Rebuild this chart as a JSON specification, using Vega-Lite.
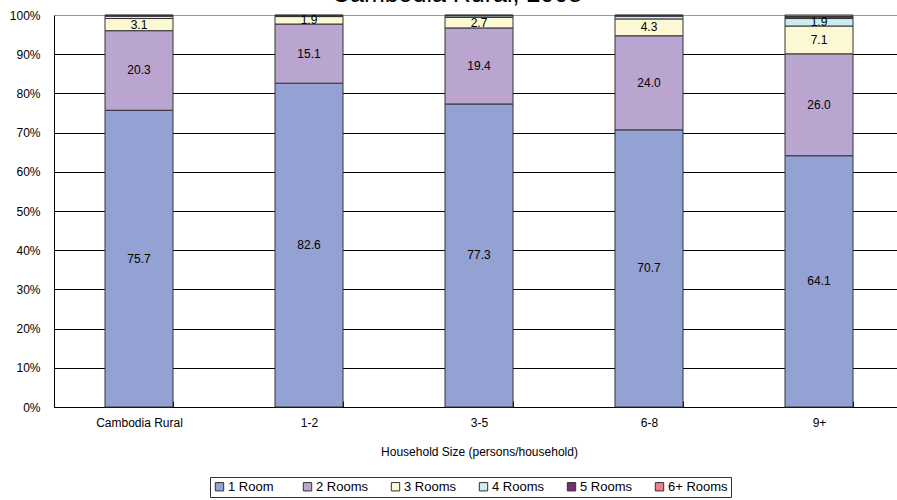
{
  "$schema": "https://vega.github.io/schema/vega-lite/v6.json",
  "width": 850,
  "height": 392,
  "autosize": "none",
  "padding": {"left": 54, "top": 15, "right": 0, "bottom": 93},
  "background": "white",
  "title": {"text": "Cambodia Rural, 2008", "fontSize": 25, "font": "Liberation Sans", "fontWeight": "normal", "color": "black", "anchor": "middle", "offset": 2, "dx": -22},
  "config": {
    "view": {"stroke": null},
    "font": "Liberation Sans Narrow, Liberation Sans",
    "axis": {"labelFont": "Liberation Sans Narrow, Liberation Sans", "titleFont": "Liberation Sans Narrow, Liberation Sans", "labelColor": "black", "titleColor": "black"}
  },
  "data": {"values": [
    {"group": "Cambodia Rural", "rooms": "1 Room", "k": 1, "value": 75.7},
    {"group": "Cambodia Rural", "rooms": "2 Rooms", "k": 2, "value": 20.3},
    {"group": "Cambodia Rural", "rooms": "3 Rooms", "k": 3, "value": 3.1},
    {"group": "Cambodia Rural", "rooms": "4 Rooms", "k": 4, "value": 0.6},
    {"group": "Cambodia Rural", "rooms": "5 Rooms", "k": 5, "value": 0.2},
    {"group": "Cambodia Rural", "rooms": "6+ Rooms", "k": 6, "value": 0.1},
    {"group": "1-2", "rooms": "1 Room", "k": 1, "value": 82.6},
    {"group": "1-2", "rooms": "2 Rooms", "k": 2, "value": 15.1},
    {"group": "1-2", "rooms": "3 Rooms", "k": 3, "value": 1.9},
    {"group": "1-2", "rooms": "4 Rooms", "k": 4, "value": 0.2},
    {"group": "1-2", "rooms": "5 Rooms", "k": 5, "value": 0.1},
    {"group": "1-2", "rooms": "6+ Rooms", "k": 6, "value": 0.1},
    {"group": "3-5", "rooms": "1 Room", "k": 1, "value": 77.3},
    {"group": "3-5", "rooms": "2 Rooms", "k": 2, "value": 19.4},
    {"group": "3-5", "rooms": "3 Rooms", "k": 3, "value": 2.7},
    {"group": "3-5", "rooms": "4 Rooms", "k": 4, "value": 0.4},
    {"group": "3-5", "rooms": "5 Rooms", "k": 5, "value": 0.1},
    {"group": "3-5", "rooms": "6+ Rooms", "k": 6, "value": 0.1},
    {"group": "6-8", "rooms": "1 Room", "k": 1, "value": 70.7},
    {"group": "6-8", "rooms": "2 Rooms", "k": 2, "value": 24.0},
    {"group": "6-8", "rooms": "3 Rooms", "k": 3, "value": 4.3},
    {"group": "6-8", "rooms": "4 Rooms", "k": 4, "value": 0.7},
    {"group": "6-8", "rooms": "5 Rooms", "k": 5, "value": 0.2},
    {"group": "6-8", "rooms": "6+ Rooms", "k": 6, "value": 0.1},
    {"group": "9+", "rooms": "1 Room", "k": 1, "value": 64.1},
    {"group": "9+", "rooms": "2 Rooms", "k": 2, "value": 26.0},
    {"group": "9+", "rooms": "3 Rooms", "k": 3, "value": 7.1},
    {"group": "9+", "rooms": "4 Rooms", "k": 4, "value": 1.9},
    {"group": "9+", "rooms": "5 Rooms", "k": 5, "value": 0.5},
    {"group": "9+", "rooms": "6+ Rooms", "k": 6, "value": 0.4}
  ]},
  "transform": [
    {"stack": "value", "groupby": ["group"], "sort": [{"field": "k", "order": "ascending"}], "as": ["v0", "v1"]},
    {"calculate": "(datum.v0 + datum.v1) / 2", "as": "mid"}
  ],
  "encoding": {
    "x": {"field": "group", "type": "nominal", "sort": ["Cambodia Rural", "1-2", "3-5", "6-8", "9+"],
      "scale": {"paddingInner": 0.6, "paddingOuter": 0.3},
      "axis": {"title": "Household Size (persons/household)", "labelAngle": 0, "labelFontSize": 12, "titleFontSize": 12, "titleFontWeight": "normal", "labelPadding": 16, "titlePadding": 18, "ticks": true, "tickBand": "extent", "tickSize": -6, "tickWidth": 1, "tickColor": "black", "domainColor": "black", "labelColor": "black"}
    }
  },
  "layer": [
    {
      "mark": {"type": "bar", "stroke": "#333333", "strokeWidth": 1},
      "encoding": {
        "y": {"field": "v0", "type": "quantitative",
          "scale": {"domain": [0, 100], "nice": false},
          "axis": {"title": null, "values": [0,10,20,30,40,50,60,70,80,90,100], "labelExpr": "datum.value + '%'", "labelFontSize": 12, "ticks": false, "labelPadding": 14, "domainColor": "black", "gridColor": {"condition": {"test": "datum.value === 100", "value": "#999999"}, "value": "black"}, "gridOpacity": 1, "gridWidth": 1}
        },
        "y2": {"field": "v1"},
        "color": {"field": "rooms", "type": "nominal",
          "scale": {"domain": ["1 Room", "2 Rooms", "3 Rooms", "4 Rooms", "5 Rooms", "6+ Rooms"],
            "range": ["#93A1D3", "#B9A5CF", "#FBF8D3", "#C9EDF0", "#7B2B72", "#EE7F89"]},
          "legend": {"title": null, "orient": "none", "legendX": 156, "legendY": 462, "direction": "horizontal", "columns": 6, "gridAlign": "all",
            "symbolType": "square", "symbolSize": 70, "symbolStrokeColor": "#333333", "symbolStrokeWidth": 1,
            "labelFontSize": 13, "labelFont": "Liberation Sans Narrow, Liberation Sans", "labelColor": "black",
            "strokeColor": "#333333", "padding": 3, "columnPadding": 13, "labelOffset": 2, "symbolOpacity": 1}
        }
      }
    },
    {
      "transform": [{"filter": "datum.value >= 1.5"}],
      "mark": {"type": "text", "fontSize": 12, "font": "Liberation Sans Narrow, Liberation Sans", "color": "black", "baseline": "middle"},
      "encoding": {
        "y": {"field": "mid", "type": "quantitative",
          "axis": {"title": null, "values": [0,10,20,30,40,50,60,70,80,90,100], "labelExpr": "datum.value + '%'", "labelFontSize": 12, "ticks": false, "labelPadding": 14, "domainColor": "black", "gridColor": {"condition": {"test": "datum.value === 100", "value": "#999999"}, "value": "black"}, "gridOpacity": 1, "gridWidth": 1}
        },
        "text": {"field": "value", "type": "quantitative", "format": ".1f"}
      }
    }
  ]
}
